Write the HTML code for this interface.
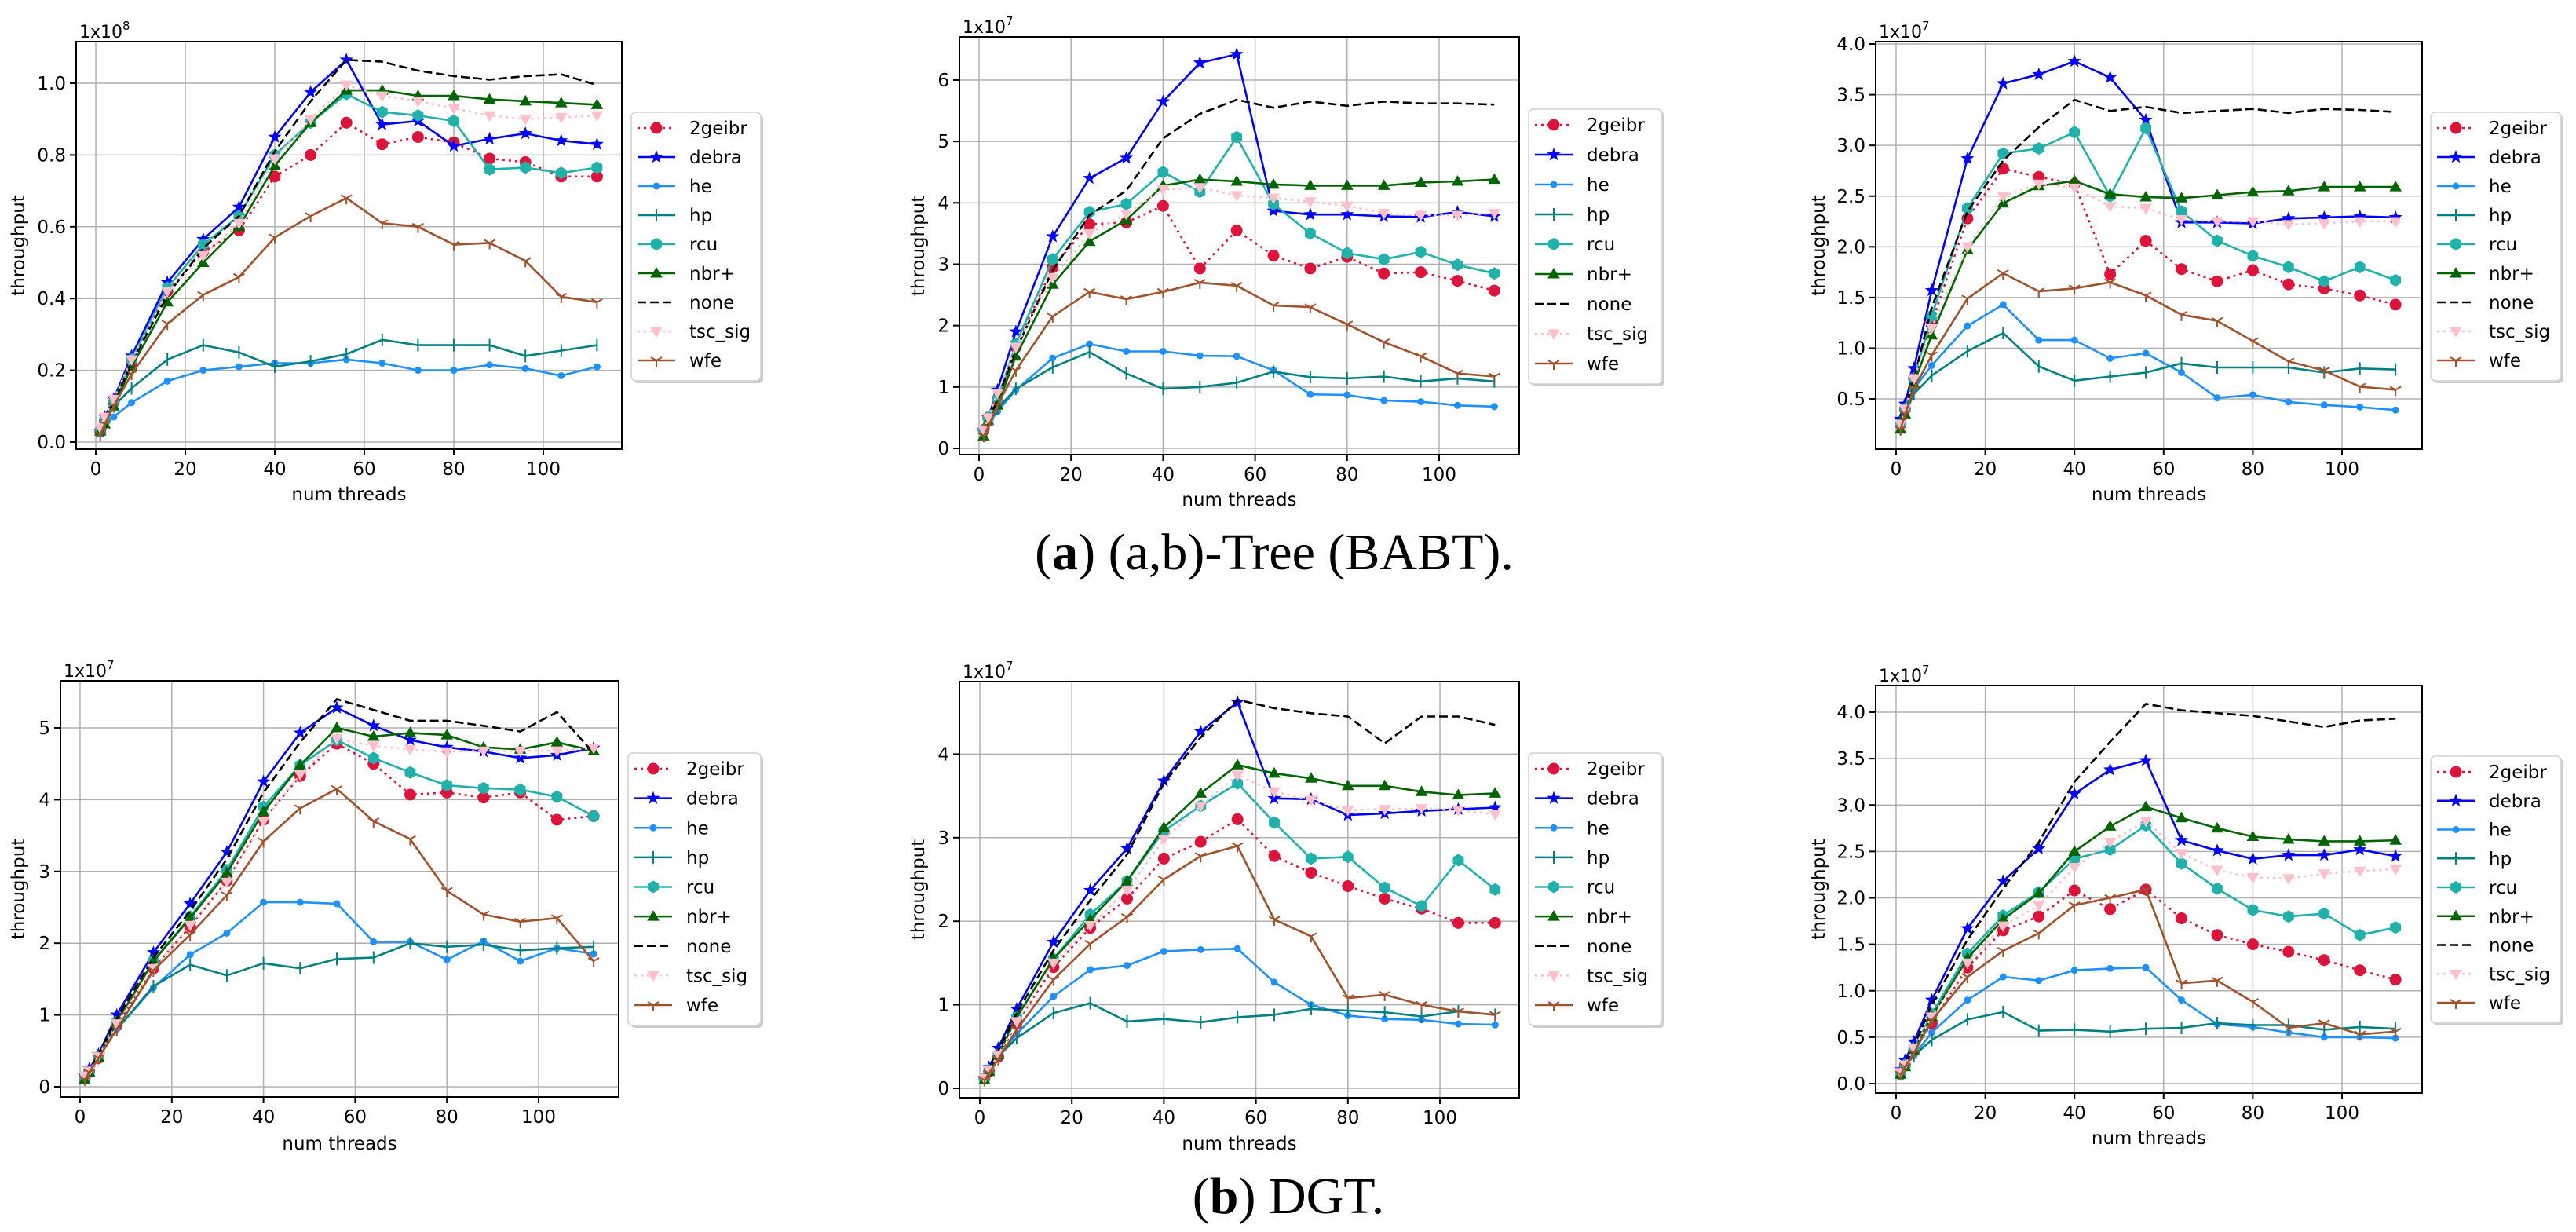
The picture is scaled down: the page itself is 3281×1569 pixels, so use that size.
<!DOCTYPE html>
<html><head><meta charset="utf-8"><style>
html,body{margin:0;padding:0;background:#fff;}
svg{display:block;font-family:"DejaVu Sans","Liberation Sans",sans-serif;}
</style></head><body>
<svg id="fig" width="3281" height="1569" viewBox="0 0 3281 1569" xmlns="http://www.w3.org/2000/svg">
<rect width="3281" height="1569" fill="#fff"/>
<text x="1623" y="725" text-anchor="middle" font-family="'Liberation Serif',serif" font-size="66">(<tspan font-weight="bold">a</tspan>) (a,b)-Tree (BABT).</text>
<text x="1641" y="1545" text-anchor="middle" font-family="'Liberation Serif',serif" font-size="66">(<tspan font-weight="bold">b</tspan>) DGT.</text>
</svg>
<script>
const threads = [1,2,4,8,16,24,32,40,48,56,64,72,80,88,96,104,112];
const seriesNames = ["2geibr","debra","he","hp","rcu","nbr+","none","tsc_sig","wfe"];
const xTicks = [0,20,40,60,80,100];

// Panel 1: BABT (x1e8)
const p1_2geibr = [0.03,0.06,0.11,0.22,0.42,0.53,0.59,0.74,0.80,0.89,0.83,0.85,0.835,0.79,0.78,0.74,0.74];
const p1_debra = [0.03,0.07,0.12,0.24,0.445,0.565,0.655,0.85,0.975,1.065,0.885,0.895,0.825,0.845,0.86,0.84,0.83];
const p1_he = [0.03,0.05,0.07,0.11,0.17,0.20,0.21,0.22,0.22,0.23,0.22,0.20,0.20,0.215,0.205,0.185,0.21];
const p1_hp = [0.03,0.05,0.10,0.15,0.23,0.27,0.25,0.21,0.225,0.245,0.285,0.27,0.27,0.27,0.24,0.255,0.27];
const p1_rcu = [0.03,0.06,0.11,0.23,0.43,0.55,0.63,0.80,0.89,0.97,0.92,0.91,0.895,0.76,0.765,0.75,0.765];
const p1_nbr = [0.03,0.05,0.10,0.21,0.39,0.50,0.60,0.77,0.89,0.98,0.98,0.965,0.965,0.955,0.95,0.945,0.94];
const p1_none = [0.03,0.06,0.11,0.22,0.41,0.54,0.63,0.81,0.95,1.065,1.06,1.035,1.02,1.01,1.02,1.025,0.995];
const p1_tsc = [0.04,0.07,0.12,0.23,0.42,0.52,0.61,0.79,0.90,0.995,0.965,0.95,0.93,0.91,0.90,0.905,0.91];
const p1_wfe = [0.02,0.05,0.10,0.19,0.33,0.41,0.46,0.57,0.63,0.68,0.61,0.60,0.55,0.555,0.505,0.405,0.39];
const p1YTicks = [0,0.2,0.4,0.6,0.8,1.0];
const p1YLabels = ["0.0","0.2","0.4","0.6","0.8","1.0"];

// Panel 2 (x1e7)
const p2_2geibr = [0.3,0.5,0.8,1.65,2.95,3.65,3.68,3.95,2.93,3.55,3.14,2.93,3.12,2.85,2.87,2.73,2.57];
const p2_debra = [0.3,0.5,0.95,1.9,3.45,4.4,4.73,5.65,6.28,6.42,3.87,3.81,3.81,3.78,3.77,3.85,3.78];
const p2_he = [0.25,0.4,0.6,0.95,1.47,1.7,1.58,1.58,1.51,1.5,1.27,0.88,0.87,0.78,0.76,0.7,0.68];
const p2_hp = [0.25,0.4,0.65,0.97,1.32,1.57,1.22,0.97,1.0,1.07,1.25,1.16,1.14,1.17,1.09,1.14,1.09];
const p2_rcu = [0.3,0.5,0.8,1.7,3.08,3.85,3.98,4.5,4.18,5.07,3.98,3.5,3.18,3.08,3.2,2.99,2.85];
const p2_nbr = [0.2,0.45,0.7,1.5,2.67,3.37,3.72,4.28,4.38,4.35,4.3,4.28,4.28,4.28,4.33,4.35,4.38];
const p2_none = [0.25,0.45,0.8,1.6,2.9,3.8,4.2,5.05,5.45,5.68,5.55,5.65,5.58,5.65,5.62,5.62,5.6];
const p2_tsc = [0.3,0.5,0.9,1.65,2.78,3.5,3.82,4.22,4.25,4.12,4.08,4.02,3.95,3.83,3.8,3.8,3.83];
const p2_wfe = [0.2,0.35,0.7,1.27,2.15,2.55,2.43,2.55,2.7,2.65,2.33,2.3,2.02,1.73,1.5,1.22,1.17];
const p2YTicks = [0,1,2,3,4,5,6];
const p2YLabels = ["0","1","2","3","4","5","6"];

// Panel 3 (x1e7)
const p3_2geibr = [0.25,0.4,0.7,1.25,2.28,2.77,2.69,2.62,1.73,2.06,1.78,1.66,1.77,1.63,1.59,1.52,1.43];
const p3_debra = [0.3,0.45,0.8,1.57,2.87,3.61,3.7,3.83,3.67,3.25,2.24,2.24,2.23,2.28,2.29,2.3,2.29];
const p3_he = [0.25,0.4,0.6,0.83,1.22,1.43,1.08,1.08,0.9,0.95,0.76,0.51,0.54,0.47,0.44,0.42,0.39];
const p3_hp = [0.2,0.35,0.55,0.73,0.97,1.15,0.82,0.68,0.72,0.76,0.85,0.81,0.81,0.81,0.76,0.8,0.79];
const p3_rcu = [0.25,0.4,0.7,1.32,2.38,2.92,2.97,3.13,2.5,3.17,2.35,2.06,1.91,1.8,1.66,1.8,1.67];
const p3_nbr = [0.2,0.35,0.65,1.13,1.97,2.43,2.6,2.65,2.52,2.49,2.48,2.51,2.54,2.55,2.59,2.59,2.59];
const p3_none = [0.25,0.4,0.7,1.4,2.35,2.85,3.18,3.45,3.34,3.38,3.32,3.34,3.36,3.32,3.36,3.35,3.33];
const p3_tsc = [0.25,0.4,0.7,1.2,2.0,2.5,2.62,2.58,2.4,2.38,2.27,2.25,2.25,2.22,2.23,2.25,2.25];
const p3_wfe = [0.2,0.35,0.6,0.93,1.49,1.74,1.56,1.59,1.65,1.52,1.33,1.27,1.07,0.87,0.78,0.62,0.59];
const p3YTicks = [0.5,1.0,1.5,2.0,2.5,3.0,3.5,4.0];
const p3YLabels = ["0.5","1.0","1.5","2.0","2.5","3.0","3.5","4.0"];

// Panel 4: DGT (x1e7)
const p4_2geibr = [0.12,0.22,0.4,0.85,1.65,2.23,2.87,3.72,4.33,4.78,4.5,4.07,4.1,4.03,4.1,3.72,3.77];
const p4_debra = [0.15,0.25,0.45,1.0,1.87,2.55,3.27,4.25,4.93,5.28,5.03,4.83,4.73,4.67,4.58,4.62,4.72];
const p4_he = [0.12,0.2,0.4,0.8,1.38,1.84,2.14,2.57,2.57,2.55,2.02,2.02,1.77,2.03,1.75,1.93,1.85];
const p4_hp = [0.12,0.2,0.4,0.8,1.4,1.7,1.55,1.72,1.65,1.78,1.8,2.0,1.95,1.98,1.9,1.93,1.95];
const p4_rcu = [0.12,0.2,0.42,0.9,1.75,2.37,3.02,3.9,4.48,4.83,4.58,4.38,4.2,4.16,4.14,4.04,3.77];
const p4_nbr = [0.1,0.2,0.4,0.9,1.75,2.35,2.98,3.83,4.48,5.0,4.88,4.93,4.9,4.73,4.7,4.8,4.68];
const p4_none = [0.12,0.22,0.45,0.95,1.8,2.45,3.17,4.1,4.8,5.4,5.25,5.1,5.1,5.03,4.95,5.22,4.65];
const p4_tsc = [0.15,0.22,0.42,0.88,1.65,2.25,2.85,3.7,4.35,4.85,4.75,4.7,4.67,4.68,4.68,4.68,4.72];
const p4_wfe = [0.1,0.2,0.4,0.8,1.62,2.12,2.67,3.42,3.88,4.15,3.7,3.45,2.73,2.4,2.3,2.35,1.75];
const p4YTicks = [0,1,2,3,4,5];
const p4YLabels = ["0","1","2","3","4","5"];

// Panel 5 (x1e7)
const p5_2geibr = [0.12,0.2,0.38,0.78,1.45,1.92,2.27,2.75,2.95,3.22,2.78,2.58,2.42,2.27,2.15,1.98,1.98];
const p5_debra = [0.12,0.25,0.48,0.95,1.75,2.37,2.87,3.68,4.27,4.62,3.47,3.46,3.27,3.29,3.32,3.34,3.36];
const p5_he = [0.1,0.2,0.38,0.65,1.1,1.42,1.47,1.64,1.66,1.67,1.27,1.0,0.87,0.83,0.82,0.77,0.76];
const p5_hp = [0.1,0.2,0.38,0.6,0.9,1.02,0.8,0.83,0.79,0.85,0.88,0.95,0.93,0.91,0.86,0.92,0.88];
const p5_rcu = [0.12,0.22,0.4,0.85,1.55,2.08,2.48,3.08,3.38,3.65,3.18,2.75,2.77,2.4,2.18,2.73,2.38];
const p5_nbr = [0.1,0.2,0.4,0.85,1.55,2.02,2.48,3.12,3.53,3.87,3.77,3.71,3.62,3.62,3.55,3.51,3.53];
const p5_none = [0.12,0.22,0.45,0.9,1.65,2.25,2.8,3.65,4.2,4.65,4.55,4.49,4.45,4.13,4.45,4.45,4.35];
const p5_tsc = [0.12,0.22,0.4,0.8,1.5,1.95,2.37,2.98,3.38,3.75,3.55,3.45,3.33,3.34,3.35,3.33,3.28];
const p5_wfe = [0.1,0.18,0.35,0.7,1.3,1.73,2.05,2.5,2.78,2.9,2.02,1.82,1.08,1.12,1.0,0.92,0.88];
const p5YTicks = [0,1,2,3,4];
const p5YLabels = ["0","1","2","3","4"];

// Panel 6 (x1e7)
const p6_2geibr = [0.1,0.2,0.35,0.65,1.25,1.65,1.8,2.08,1.88,2.09,1.78,1.6,1.5,1.42,1.33,1.22,1.12];
const p6_debra = [0.15,0.25,0.45,0.9,1.67,2.18,2.53,3.12,3.38,3.48,2.62,2.51,2.42,2.46,2.46,2.52,2.45];
const p6_he = [0.1,0.18,0.3,0.55,0.9,1.15,1.11,1.22,1.24,1.25,0.9,0.64,0.61,0.55,0.5,0.5,0.49];
const p6_hp = [0.1,0.2,0.3,0.47,0.69,0.77,0.57,0.58,0.56,0.59,0.6,0.65,0.63,0.63,0.58,0.61,0.59];
const p6_rcu = [0.1,0.2,0.38,0.75,1.4,1.81,2.06,2.42,2.52,2.78,2.37,2.1,1.87,1.8,1.83,1.6,1.68];
const p6_nbr = [0.1,0.18,0.35,0.72,1.35,1.77,2.05,2.5,2.77,2.98,2.86,2.75,2.66,2.63,2.61,2.61,2.62];
const p6_none = [0.12,0.2,0.4,0.85,1.55,2.1,2.6,3.25,3.68,4.09,4.02,3.99,3.96,3.9,3.84,3.91,3.93];
const p6_tsc = [0.12,0.2,0.38,0.72,1.3,1.7,1.92,2.33,2.6,2.83,2.48,2.3,2.22,2.21,2.26,2.29,2.31];
const p6_wfe = [0.1,0.18,0.33,0.68,1.15,1.43,1.62,1.92,2.0,2.09,1.08,1.11,0.88,0.6,0.65,0.53,0.56];
const p6YTicks = [0,0.5,1.0,1.5,2.0,2.5,3.0,3.5,4.0];
const p6YLabels = ["0.0","0.5","1.0","1.5","2.0","2.5","3.0","3.5","4.0"];

const styles = [
 {color:"#DC143C", dash:"3,5", marker:"circle"},
 {color:"#0000FF", dash:null, marker:"star"},
 {color:"#1E90FF", dash:null, marker:"dot"},
 {color:"#008080", dash:null, marker:"vline"},
 {color:"#20B2AA", dash:null, marker:"hex"},
 {color:"#006400", dash:null, marker:"tri"},
 {color:"#000000", dash:"11,5", marker:"none"},
 {color:"#FFC0CB", dash:"3,5", marker:"trid"},
 {color:"#A0522D", dash:null, marker:"y"}
];

const panels = [
 {id:"p1", exp:"8", frame:[97,53,792,572], x0:122, xs:5.7, y0:563, ys:457, yt:p1YTicks, yl:p1YLabels, leg:[804,143,969,485], ylx:24, xly:637,
  data:[p1_2geibr,p1_debra,p1_he,p1_hp,p1_rcu,p1_nbr,p1_none,p1_tsc,p1_wfe]},
 {id:"p2", exp:"7", frame:[1222,47,1935,579], x0:1247, xs:5.86, y0:571, ys:78.17, yt:p2YTicks, yl:p2YLabels, leg:[1947,139,2117,489], ylx:1170, xly:644,
  data:[p2_2geibr,p2_debra,p2_he,p2_hp,p2_rcu,p2_nbr,p2_none,p2_tsc,p2_wfe]},
 {id:"p3", exp:"7", frame:[2389,53,3085,572], x0:2415, xs:5.68, y0:572.6, ys:129.14, yt:p3YTicks, yl:p3YLabels, leg:[3096,143,3262,485], ylx:2317, xly:637,
  data:[p3_2geibr,p3_debra,p3_he,p3_hp,p3_rcu,p3_nbr,p3_none,p3_tsc,p3_wfe]},
 {id:"p4", exp:"7", frame:[77,867,788,1397], x0:102, xs:5.84, y0:1384, ys:91.4, yt:p4YTicks, yl:p4YLabels, leg:[800,959,969,1306], ylx:24, xly:1464,
  data:[p4_2geibr,p4_debra,p4_he,p4_hp,p4_rcu,p4_nbr,p4_none,p4_tsc,p4_wfe]},
 {id:"p5", exp:"7", frame:[1222,868,1935,1398], x0:1248, xs:5.86, y0:1386, ys:106.4, yt:p5YTicks, yl:p5YLabels, leg:[1947,959,2117,1306], ylx:1170, xly:1464,
  data:[p5_2geibr,p5_debra,p5_he,p5_hp,p5_rcu,p5_nbr,p5_none,p5_tsc,p5_wfe]},
 {id:"p6", exp:"7", frame:[2389,873,3085,1392], x0:2415, xs:5.68, y0:1380, ys:118.25, yt:p6YTicks, yl:p6YLabels, leg:[3096,963,3262,1303], ylx:2317, xly:1457,
  data:[p6_2geibr,p6_debra,p6_he,p6_hp,p6_rcu,p6_nbr,p6_none,p6_tsc,p6_wfe]}
];

const NS = "http://www.w3.org/2000/svg";
const svg = document.getElementById("fig");
function mk(tag, attrs, parent){
  const e = document.createElementNS(NS, tag);
  for (const k in attrs) e.setAttribute(k, attrs[k]);
  (parent||svg).appendChild(e);
  return e;
}
function starPts(cx,cy,r){
  let p=[];
  for(let i=0;i<10;i++){const a=-Math.PI/2+i*Math.PI/5;const rr=i%2?r*0.42:r;p.push((cx+rr*Math.cos(a)).toFixed(1)+","+(cy+rr*Math.sin(a)).toFixed(1));}
  return p.join(" ");
}
function polyPts(cx,cy,r,n,rot){
  let p=[];
  for(let i=0;i<n;i++){const a=rot+i*2*Math.PI/n;p.push((cx+r*Math.cos(a)).toFixed(1)+","+(cy+r*Math.sin(a)).toFixed(1));}
  return p.join(" ");
}
function drawMarker(g, kind, cx, cy, color, scale){
  const s = scale||1;
  let m;
  if(kind==="circle"){ m = mk("circle",{cx:cx,cy:cy,r:7.5*s,fill:color},g); }
  else if(kind==="star"){ m = mk("polygon",{points:starPts(cx,cy,9*s),fill:color},g); }
  else if(kind==="dot"){ m = mk("circle",{cx:cx,cy:cy,r:4.5*s,fill:color},g); }
  else if(kind==="vline"){ m = mk("line",{x1:cx,y1:cy-8*s,x2:cx,y2:cy+8*s,stroke:color,"stroke-width":2},g); }
  else if(kind==="hex"){ m = mk("polygon",{points:polyPts(cx,cy,8*s,6,-Math.PI/2),fill:color},g); }
  else if(kind==="tri"){ m = mk("polygon",{points:polyPts(cx,cy+1,9*s,3,-Math.PI/2),fill:color},g); }
  else if(kind==="trid"){ m = mk("polygon",{points:polyPts(cx,cy-1,9*s,3,Math.PI/2),fill:color},g); }
  else if(kind==="y"){
    m = mk("path",{d:`M${cx} ${cy}L${cx} ${cy+8*s}M${cx} ${cy}L${cx-7*s} ${cy-4*s}M${cx} ${cy}L${cx+7*s} ${cy-4*s}`,stroke:color,"stroke-width":2,fill:"none"},g);
  }
  if(m){
    
    
  }
}

panels.forEach(function(P){
  const [L,T,R,B] = P.frame;
  const xp = v => P.x0 + v*P.xs;
  const yp = v => P.y0 - v*P.ys;
  const g = mk("g",{});
  
  

  // grid
  xTicks.forEach(function(t){
    const l = mk("line",{x1:xp(t),y1:T,x2:xp(t),y2:B,stroke:"#b0b0b0","stroke-width":1.5},g);
    
    
  });
  P.yt.forEach(function(t){
    const l = mk("line",{x1:L,y1:yp(t),x2:R,y2:yp(t),stroke:"#b0b0b0","stroke-width":1.5},g);
    
    
  });

  // series
  P.data.forEach(function(vals, si){
    const st = styles[si];
    const sg = mk("g",{},g);
    
    
    const pts = vals.map((v,i)=>xp(threads[i]).toFixed(1)+","+yp(v).toFixed(1)).join(" ");
    const attrs = {points:pts,fill:"none",stroke:st.color,"stroke-width":2.6,"stroke-linejoin":"round"};
    if(st.dash) attrs["stroke-dasharray"]=st.dash;
    const pl = mk("polyline",attrs,sg);
    
    
    if(st.marker!=="none"){
      vals.forEach(function(v,i){ drawMarker(sg, st.marker, xp(threads[i]), yp(v), st.color, 1); });
    }
  });

  // frame
  const fr = mk("rect",{x:L,y:T,width:R-L,height:B-T,fill:"none",stroke:"#000","stroke-width":2},g);
  
  

  // ticks & labels
  xTicks.forEach(function(t){
    mk("line",{x1:xp(t),y1:B,x2:xp(t),y2:B+8,stroke:"#000","stroke-width":2},g);
    const tx = mk("text",{x:xp(t),y:B+33,"text-anchor":"middle","font-size":23,fill:"#000"},g);
    tx.textContent = String(t);
    
    
  });
  P.yt.forEach(function(t,i){
    mk("line",{x1:L-8,y1:yp(t),x2:L,y2:yp(t),stroke:"#000","stroke-width":2},g);
    const tx = mk("text",{x:L-13,y:yp(t)+8,"text-anchor":"end","font-size":23,fill:"#000"},g);
    tx.textContent = P.yl[i];
    
    
  });

  // offset text
  const off = mk("text",{x:L+4,y:T-5,"font-size":22,fill:"#000"},g);
  
  
  off.textContent = "1x10";
  const sup = mk("tspan",{dy:-10,"font-size":15},off);
  sup.textContent = P.exp;

  // axis titles
  const yl = mk("text",{x:P.ylx,y:(T+B)/2,"text-anchor":"middle","dominant-baseline":"central","font-size":23,transform:`rotate(-90 ${P.ylx} ${(T+B)/2})`},g);
  yl.textContent = "throughput";
  
  
  const xl = mk("text",{x:(L+R)/2,y:P.xly,"text-anchor":"middle","font-size":23},g);
  xl.textContent = "num threads";
  
  

  // legend
  const [lx1,ly1,lx2,ly2] = P.leg;
  const lg = mk("g",{},g);
  
  
  mk("rect",{x:lx1+3,y:ly1+3,width:lx2-lx1,height:ly2-ly1,rx:6,fill:"#999","fill-opacity":0.5},lg);
  mk("rect",{x:lx1,y:ly1,width:lx2-lx1,height:ly2-ly1,rx:6,fill:"#fff",stroke:"#d0d0d0","stroke-width":1.5},lg);
  const sp = (ly2-ly1-46)/8;
  seriesNames.forEach(function(nm, si){
    const st = styles[si];
    const cy = ly1+20+si*sp;
    const eg = mk("g",{},lg);
    
    
    const la = {x1:lx1+8,y1:cy,x2:lx1+56,y2:cy,stroke:st.color,"stroke-width":2.6};
    if(st.dash) la["stroke-dasharray"]=st.dash;
    mk("line",la,eg);
    if(st.marker!=="none") drawMarker(eg, st.marker, lx1+32, cy, st.color, 1);
    const tx = mk("text",{x:lx1+74,y:cy+8,"font-size":23,fill:"#000"},eg);
    tx.textContent = nm;
  });
});
</script>
</body></html>
